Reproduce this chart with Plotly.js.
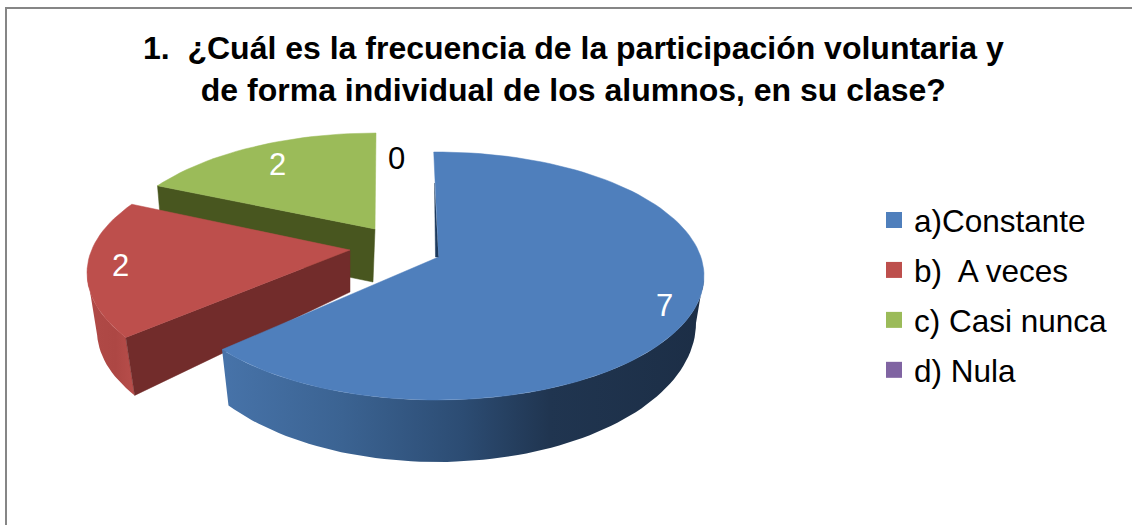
<!DOCTYPE html>
<html>
<head>
<meta charset="utf-8">
<script src="https://cdn.plot.ly/plotly-3.0.1.min.js"></script>
<style>html,body{margin:0;padding:0;background:#fff;overflow:hidden}#chart{width:1132px;height:525px}</style>
</head>
<body>
<div id="chart"></div>
<script>
// ---- data ----
const categories = ['a)Constante', 'b)  A veces', 'c) Casi nunca', 'd) Nula'];
const values = [7, 2, 2, 0];
const chartTitle = '1.  ¿Cuál es la frecuencia de la participación voluntaria y<br>de forma individual de los alumnos, en su clase?';

// ---- styling and view geometry ----
const topColors = ['#4f7fbc', '#bd4f4c', '#9bbb59', '#8064a2'];
const faceColors = [null, '#722c2b', '#48561f', null];
const RX = 267, RY = 124, LOWER_RX = 259;
const centres = [[437, 276], [354, 273], [376, 257]];   // exploded slice centres
const apexes  = [[438.5, 257], [350, 250], [375, 229]]; // tip of each slice
const lowerCentres = [[437, 323], [356, 331], [374, 310]];
const lowerRY = [139, 124, 124];
const lowerApexes  = [[438, 300], [350, 292], [373, 282]];
const viewNudge = [[-0.7, -1.9], [3.2, 1.4], [2.8, 0], [0, 0]]; // perspective shift of slice edges, degrees
const labelSpots = [[664, 305], [120, 265], [277, 164], [396, 158]];
const labelColors = ['#ffffff', '#ffffff', '#ffffff', '#000000'];

const total = values.reduce((a, b) => a + b, 0);
const warp = d => d - 8.5 * Math.sin(d * Math.PI / 180); // perspective tilt of the pie
const boundaries = [];
values.reduce((run, v, i) => { boundaries[i] = [run, run + v / total * 360]; return run + v / total * 360; }, 0);
const span = i => boundaries[i].map((d, k) => warp(d) + viewNudge[i][k]);

function arc(c, rx, ry, from, to) {
  const n = Math.max(2, Math.ceil(Math.abs(to - from) / 2));
  const xs = [], ys = [];
  for (let k = 0; k <= n; k++) {
    const a = (from + (to - from) * k / n) * Math.PI / 180;
    xs.push(c[0] + rx * Math.sin(a));
    ys.push(c[1] - ry * Math.cos(a));
  }
  return [xs, ys];
}
function poly(xs, ys, color, extra) {
  return Object.assign({type: 'scatter', mode: 'lines', x: xs, y: ys, fill: 'toself', fillcolor: color,
    line: {color: color, width: 0.5}, showlegend: false, hoverinfo: 'skip'}, extra || {});
}
function topSurface(i) {
  const [a0, a1] = span(i);
  const [xs, ys] = arc(centres[i], RX, RY, a0, a1);
  return poly([apexes[i][0], ...xs, apexes[i][0]], [apexes[i][1], ...ys, apexes[i][1]], topColors[i]);
}
function cutFace(i) {
  const a = span(i)[0];
  const [tx, ty] = arc(centres[i], RX, RY, a, a + 0.001);
  const [bx, by] = arc(lowerCentres[i], LOWER_RX, lowerRY[i], a, a + 0.001);
  return poly([apexes[i][0], tx[0], bx[0], lowerApexes[i][0], apexes[i][0]],
              [apexes[i][1], ty[0], by[0], lowerApexes[i][1], apexes[i][1]], faceColors[i]);
}
function wall(i, from, to, stops) {
  const [tx, ty] = arc(centres[i], RX, RY, from, to);
  const [bx, by] = arc(lowerCentres[i], LOWER_RX, lowerRY[i], to, from);
  const t = poly([...tx, ...bx, tx[0]], [...ty, ...by, ty[0]], stops[0][1]);
  t.fillgradient = {type: 'horizontal', colorscale: stops};
  t.line = {width: 0};
  delete t.fillcolor;
  return t;
}

const blue1 = span(0)[1], red0 = span(1)[0];
const traces = [
  cutFace(2),
  topSurface(2),
  wall(1, red0, 270, [[0, '#b04a47'], [0.6, '#ad4744'], [1, '#b84e4b']]),
  cutFace(1),
  topSurface(1),
  wall(0, 90, blue1, [[0, '#4773a9'], [0.25, '#3b6392'], [0.5, '#2c4c73'], [0.68, '#203550'], [1, '#1c2e46']]),
  topSurface(0),
  poly([apexes[0][0] - 4, apexes[0][0] - 3, apexes[0][0]], [183, apexes[0][1], apexes[0][1]], '#1d3a5e')
];
// legend entries, one per category
categories.forEach((c, i) => traces.push({
  type: 'scatter', mode: 'markers', x: [null], y: [null], name: c, legendgroup: c, showlegend: true,
  marker: {symbol: 'square', size: 17, color: topColors[i]}, hoverinfo: 'skip'
}));

const layout = {
  width: 1132, height: 525,
  margin: {l: 0, r: 0, t: 0, b: 0},
  paper_bgcolor: '#ffffff', plot_bgcolor: 'rgba(0,0,0,0)',
  font: {family: '"Liberation Sans", Arial, sans-serif', color: '#000000'},
  title: {text: chartTitle, x: 0.5065, xanchor: 'center', y: 0.8875, yanchor: 'bottom',
          font: {family: '"Liberation Sans", Arial, sans-serif', size: 32, color: '#000000', weight: 700}},
  xaxis: {range: [0, 1132], visible: false, fixedrange: true},
  yaxis: {range: [525, 0], visible: false, fixedrange: true},
  legend: {x: 874 / 1132, xanchor: 'left', y: 1 - 193 / 525, yanchor: 'top', bgcolor: 'rgba(0,0,0,0)',
           font: {size: 31.5, family: '"Liberation Sans", Arial, sans-serif', color: '#000000'},
           tracegroupgap: 6, itemwidth: 30, itemclick: false, itemdoubleclick: false},
  shapes: [
    {type: 'line', xref: 'paper', yref: 'paper', x0: 6 / 1132, x1: 6 / 1132, y0: 0, y1: 1 - 8 / 525, line: {color: '#868686', width: 2}},
    {type: 'line', xref: 'paper', yref: 'paper', x0: 5 / 1132, x1: 1, y0: 1 - 8 / 525, y1: 1 - 8 / 525, line: {color: '#868686', width: 2}}
  ],
  annotations: values.map((v, i) => ({
    x: labelSpots[i][0], y: labelSpots[i][1], xref: 'x', yref: 'y', text: String(v), showarrow: false,
    xanchor: 'center', yanchor: 'middle', font: {size: 31, color: labelColors[i]}
  })),
  hovermode: false
};
Plotly.newPlot('chart', traces, layout, {displayModeBar: false, staticPlot: true});
</script>
</body>
</html>
